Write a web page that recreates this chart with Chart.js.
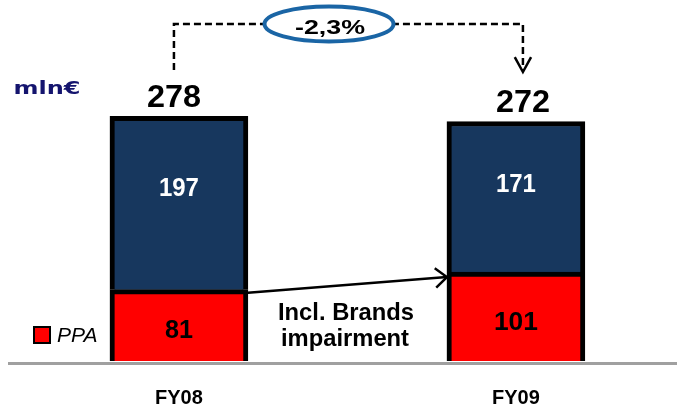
<!DOCTYPE html>
<html>
<head>
<meta charset="utf-8">
<script src="https://cdn.jsdelivr.net/npm/chart.js@4"></script>
<style>
  html, body { margin: 0; padding: 0; background: #fff; }
</style>
</head>
<body>
<canvas id="grafik" width="677" height="409"></canvas>
<script>
const categories = ['FY08', 'FY09'];
const ppaValues = [81, 101];
const otherValues = [197, 171];
const totals = [278, 272];
const changeLabel = '-2,3%';
const unitLabel = 'mln€';
const legendLabel = 'PPA';
const noteLines = ['Incl. Brands', 'impairment'];

const FONT = "'Liberation Sans', Arial, sans-serif";

// draw text squeezed/stretched to a given width (the original uses a narrow font)
function drawText(ctx, text, x, y, width) {
    const w = ctx.measureText(text).width;
    const sx = width ? width / w : 1;
    ctx.save();
    ctx.translate(x, y);
    ctx.scale(sx, 1);
    ctx.fillText(text, 0, 0);
    ctx.restore();
}

function arrowHead(ctx, tipX, tipY, angle, len, spread) {
    ctx.beginPath();
    ctx.moveTo(tipX - len * Math.cos(angle - spread), tipY - len * Math.sin(angle - spread));
    ctx.lineTo(tipX, tipY);
    ctx.lineTo(tipX - len * Math.cos(angle + spread), tipY - len * Math.sin(angle + spread));
    ctx.stroke();
}

const annotations = {
    id: 'annotations',
    afterDatasetsDraw(chart) {
        const ctx = chart.ctx;
        const ppa = chart.getDatasetMeta(0).data;
        const other = chart.getDatasetMeta(1).data;
        const yZero = chart.scales.y.getPixelForValue(0);

        ctx.save();

        // base line
        ctx.strokeStyle = '#a0a0a0';
        ctx.lineWidth = 3;
        ctx.beginPath();
        ctx.moveTo(8, yZero + 2.5);
        ctx.lineTo(chart.width, yZero + 2.5);
        ctx.stroke();

        // values inside the segments
        ctx.textAlign = 'center';
        ctx.textBaseline = 'middle';
        ctx.font = 'bold 26px ' + FONT;
        other.forEach((bar, i) => {
            ctx.fillStyle = '#ffffff';
            drawText(ctx, String(otherValues[i]), bar.x, bar.y + (bar.base - bar.y) * 0.42, 40);
        });
        ppa.forEach((bar, i) => {
            ctx.fillStyle = '#000000';
            drawText(ctx, String(ppaValues[i]), bar.x, bar.y + (bar.base - bar.y) * 0.57, i === 0 ? 28 : 44);
        });

        // totals above the bars
        const totalX = [other[0].x - 5, other[1].x + 7];
        ctx.font = 'bold 31px ' + FONT;
        other.forEach((bar, i) => {
            drawText(ctx, String(totals[i]), totalX[i], bar.y - 18, 54);
        });

        // dashed connector with change bubble
        const yTop = 24;
        ctx.strokeStyle = '#000000';
        ctx.lineWidth = 2.5;
        ctx.setLineDash([7, 4]);
        ctx.beginPath();
        ctx.moveTo(totalX[0], 70);
        ctx.lineTo(totalX[0], yTop);
        ctx.lineTo(totalX[1], yTop);
        ctx.lineTo(totalX[1], 71);
        ctx.stroke();
        ctx.setLineDash([]);
        arrowHead(ctx, totalX[1], 72, Math.PI / 2, 17, 0.5);

        ctx.beginPath();
        ctx.ellipse(329, 24, 64.5, 17.5, 0, 0, Math.PI * 2);
        ctx.fillStyle = '#ffffff';
        ctx.fill();
        ctx.strokeStyle = '#1a65a5';
        ctx.lineWidth = 4;
        ctx.stroke();
        ctx.fillStyle = '#000000';
        ctx.font = 'bold 21px ' + FONT;
        drawText(ctx, changeLabel, 330, 28, 70);

        // arrow between the PPA segments
        const x1 = ppa[0].x + ppa[0].width / 2, y1 = ppa[0].y + 3;
        const x2 = ppa[1].x - ppa[1].width / 2, y2 = ppa[1].y + 5;
        ctx.strokeStyle = '#000000';
        ctx.lineWidth = 2.5;
        ctx.beginPath();
        ctx.moveTo(x1, y1);
        ctx.lineTo(x2, y2);
        ctx.stroke();
        arrowHead(ctx, x2, y2, Math.atan2(y2 - y1, x2 - x1), 15, 0.7);

        ctx.font = 'bold 24px ' + FONT;
        drawText(ctx, noteLines[0], 346, 313, 136);
        drawText(ctx, noteLines[1], 345, 339, 128);

        // unit label
        ctx.fillStyle = '#14146e';
        ctx.font = "bold 18px 'DejaVu Sans', sans-serif";
        drawText(ctx, unitLabel, 47, 89, 67);

        // legend
        ctx.fillStyle = '#ff0000';
        ctx.fillRect(34, 327, 16, 16);
        ctx.strokeStyle = '#000000';
        ctx.lineWidth = 2;
        ctx.strokeRect(34, 327, 16, 16);
        ctx.fillStyle = '#000000';
        ctx.textAlign = 'left';
        ctx.font = 'italic 21px ' + FONT;
        drawText(ctx, legendLabel, 57, 336, 0);

        ctx.restore();
    }
};

const ctx = document.getElementById('grafik').getContext('2d');

new Chart(ctx, {
    type: 'bar',
    data: {
        datasets: [{
                label: legendLabel,
                data: ppaValues.map((v, i) => ({ x: i, y: v })),
                backgroundColor: '#ff0000',
                borderColor: '#000000',
                borderWidth: 5,
                borderSkipped: 'bottom',
                barThickness: 138
            },
            {
                label: 'Other',
                data: otherValues.map((v, i) => ({ x: i, y: v })),
                backgroundColor: '#17375e',
                borderColor: '#000000',
                borderWidth: 5,
                borderSkipped: 'bottom',
                barThickness: 138
            }
        ]
    },
    options: {
        responsive: false,
        animation: false,
        layout: { padding: 0 },
        plugins: {
            legend: { display: false },
            tooltip: { enabled: false }
        },
        scales: {
            x: {
                type: 'linear',
                stacked: true,
                offset: false,
                bounds: 'data',
                min: -0.531,
                max: 1.478,
                afterBuildTicks: axis => {
                    axis.ticks = categories.map((c, i) => ({ value: i }));
                },
                afterFit: axis => {
                    axis.height = 48;
                },
                ticks: {
                    callback: v => categories[v],
                    color: '#000000',
                    font: { family: FONT, size: 20, weight: 'bold' },
                    padding: 25,
                    autoSkip: false,
                    maxRotation: 0
                },
                grid: { display: false, drawTicks: false },
                border: { display: false }
            },
            y: {
                stacked: true,
                display: false,
                min: 0,
                max: 410
            }
        }
    },
    plugins: [annotations]
});
</script>
</body>
</html>
